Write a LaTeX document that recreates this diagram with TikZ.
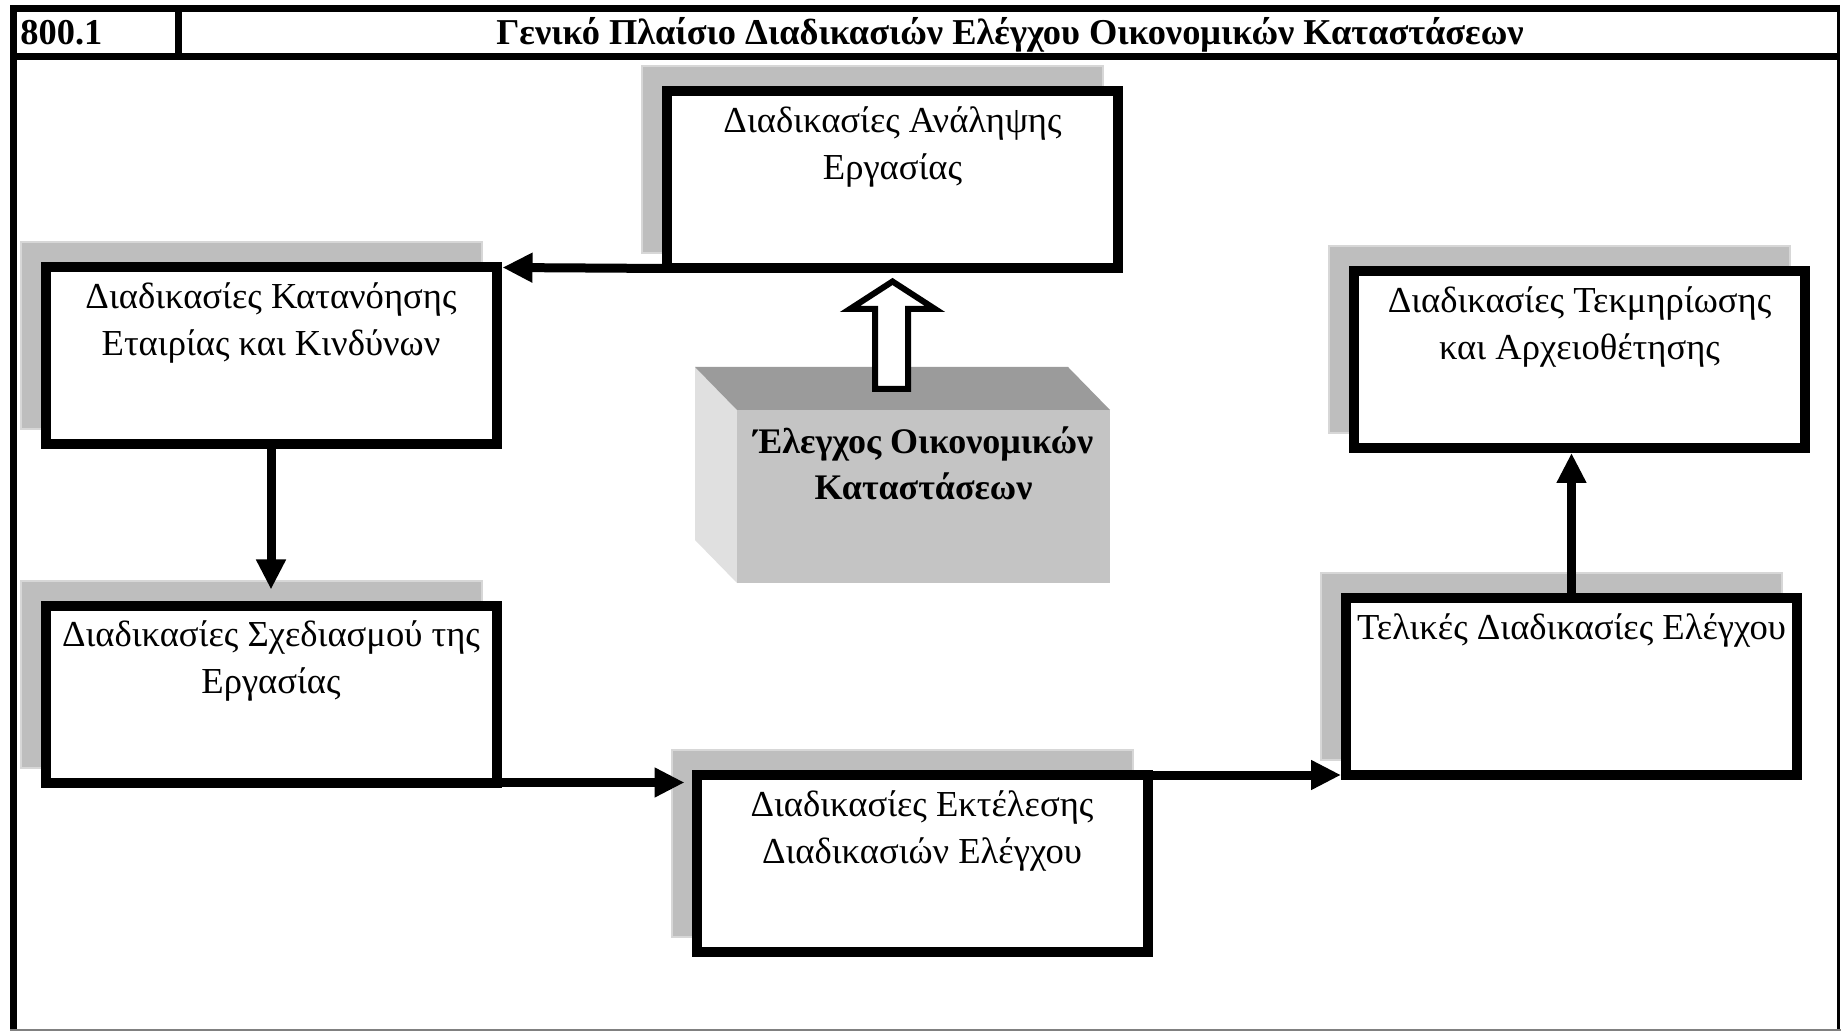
\documentclass[tikz,border=0pt]{standalone}
\usepackage{fontspec}
\setmainfont{Liberation Serif}
\usetikzlibrary{arrows.meta,calc}
\pgfdeclarelayer{background}
\pgfdeclarelayer{canvas}
\pgfsetlayers{canvas,background,main}
\definecolor{shadowfill}{RGB}{190,190,190}
\definecolor{shadowedge}{RGB}{215,215,215}
\definecolor{topface}{RGB}{155,155,155}
\definecolor{frontface}{RGB}{196,196,196}
\definecolor{leftface}{RGB}{224,224,224}
\tikzset{
  procbox/.style={draw=black, line width=5pt, fill=white, rectangle,
    minimum width=225.5pt, minimum height=88.5pt, inner sep=0pt, outer sep=0pt},
  boxtext/.style={font=\fontsize{18.3pt}{23.5pt}\selectfont, align=center, inner sep=0pt, anchor=north},
  cubetext/.style={font=\bfseries\fontsize{18pt}{23pt}\selectfont, align=center, inner sep=0pt, anchor=north},
  hdr/.style={font=\bfseries\fontsize{18.2pt}{22pt}\selectfont, inner sep=0pt},
  frameline/.style={line width=3.5pt},
  conn/.style={line width=4.5pt, -{Triangle[length=15pt,width=14pt]}},
  shadowbox/.style={fill=shadowfill, draw=shadowedge, line width=1pt},
  hollow/.style={draw=black, line width=3pt, fill=white, line join=miter}
}
\begin{document}
\begin{tikzpicture}[x=0.5pt,y=-0.5pt]
\useasboundingbox (0,0) rectangle (1841,1031);
\begin{pgfonlayer}{canvas}
\fill[white] (0,0) rectangle (1841,1031);
\end{pgfonlayer}

% frame and header
\draw[frameline] (13.5,1031) -- (13.5,8.5) -- (1839,8.5);
\draw[frameline] (10,56.5) -- (1839,56.5);
\draw[frameline] (178.5,8.5) -- (178.5,56.5);
\draw[line width=1.5pt] (1838,5) -- (1838,1031);
\draw[gray, line width=1pt] (10,1029.5) -- (1841,1029.5);
\node[hdr, anchor=base west] (num) at (20,45) {800.1};
\node[hdr, anchor=base] (title) at (1010,45) {Γενικό Πλαίσιο Διαδικασιών Ελέγχου Οικονομικών Καταστάσεων};

% process boxes
\node[procbox] (A) at (892.5,180) {};
\node[procbox] (K) at (271,356) {};
\node[procbox] (S) at (271,694) {};
\node[procbox] (E) at (922,863.5) {};
\node[procbox] (T) at (1571.5,686.5) {};
\node[procbox] (M) at (1579.5,359.5) {};

\begin{pgfonlayer}{background}
\foreach \b in {A,K,S,E,T,M}
  \draw[shadowbox] ($(\b.north west)+(-25,-25)$) rectangle ($(\b.south east)+(-15,-15)$);
\end{pgfonlayer}

\node[boxtext] (At) at ($(A.north)+(0,8)$) {\strut Διαδικασίες Ανάληψης\\Εργασίας};
\node[boxtext] (Kt) at ($(K.north)+(0,8)$) {\strut Διαδικασίες Κατανόησης\\Εταιρίας και Κινδύνων};
\node[boxtext] (St) at ($(S.north)+(0,8)$) {\strut Διαδικασίες Σχεδιασμού της\\Εργασίας};
\node[boxtext] (Et) at ($(E.north)+(0,8)$) {\strut Διαδικασίες Εκτέλεσης\\Διαδικασιών Ελέγχου};
\node[boxtext] (Tt) at ($(T.north)+(0,8)$) {\strut Τελικές Διαδικασίες Ελέγχου};
\node[boxtext] (Mt) at ($(M.north)+(0,8)$) {\strut Διαδικασίες Τεκμηρίωσης\\και Αρχειοθέτησης};

% 3D block
\fill[leftface] (695,367) -- (737,410) -- (737,583) -- (695,540) -- cycle;
\fill[topface] (695,367) -- (1068,367) -- (1110,410) -- (737,410) -- cycle;
\fill[frontface] (737,410) rectangle (1110,583);
\node[cubetext] (fs) at (923.5,421) {\strut Έλεγχος Οικονομικών\\Καταστάσεων};

% hollow block arrow from the 3D block to A
\draw[hollow] (875,389) -- (875,309) -- (850,309) -- ($(A.south)+(0,13)$) -- (935,309) -- (908,309) -- (908,389) -- cycle;

% connectors
\draw[conn] (A.south west) -- ($(K.north east)+(6,0)$);
\draw[conn] (K.south) -- ($(S.north)+(0,-16)$);
\draw[conn] (S.south east) -- ($(E.north west |- S.south east)+(-12,0)$);
\draw[conn] (E.north east) -- ($(T.south west |- E.north east)+(-5,0)$);
\draw[conn] (T.north) -- ($(T.north |- M.south)+(0,5)$);
\end{tikzpicture}
\end{document}
